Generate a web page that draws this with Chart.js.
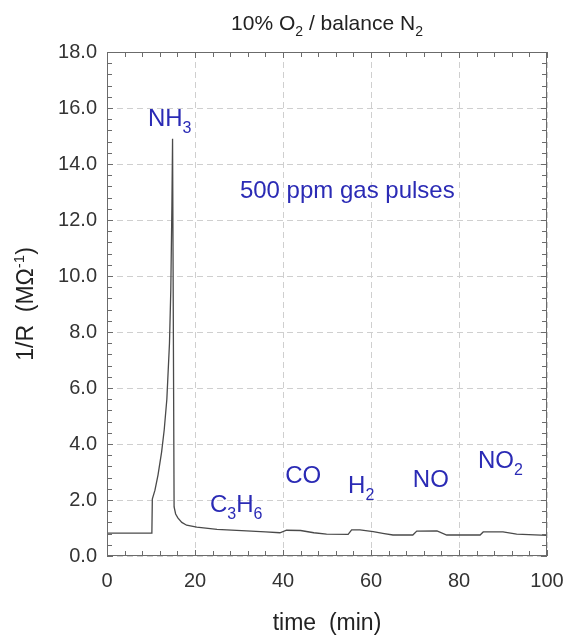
<!DOCTYPE html>
<html>
<head>
<meta charset="utf-8">
<script src="https://cdn.jsdelivr.net/npm/chart.js@4.4.1/dist/chart.umd.min.js"></script>
<style>
  html, body { margin: 0; padding: 0; background: #fff; }
  #wrap { width: 567px; height: 638px; }
</style>
</head>
<body>
<div id="wrap"><canvas id="sensorChart"></canvas></div>
<script>
// time (min) and 1/R (MOhm^-1)
const timeMin = [0, 10.2, 10.3, 10.9, 11.6, 12.4, 13.0, 13.6, 14.2, 14.5, 14.75, 14.9, 15.25, 15.6, 16.1, 17.0, 18.1, 20.4, 25, 31.7, 36, 39.3, 40.8, 44, 47, 49.9, 54.8, 55.6, 57.5, 60.5, 63, 65, 69.5, 70.4, 75, 77.2, 84.8, 85.5, 90, 93.1, 100];
const inverseR = [0.82, 0.82, 2.03, 2.35, 2.9, 3.7, 4.5, 5.6, 7.6, 9.5, 12.5, 14.9, 1.75, 1.5, 1.36, 1.2, 1.1, 1.03, 0.95, 0.9, 0.86, 0.83, 0.92, 0.91, 0.83, 0.78, 0.77, 0.93, 0.93, 0.87, 0.8, 0.75, 0.75, 0.89, 0.9, 0.75, 0.75, 0.86, 0.86, 0.78, 0.74];

// gas labels (text, x in min, y in 1/R at text baseline)
const gasLabels = ["NH_{3}", "500 ppm gas pulses", "C_{3}H_{6}", "CO", "H_{2}", "NO", "NO_{2}"];
const gasLabelX = [9.3, 30.2, 23.4, 40.5, 54.8, 69.5, 84.3];
const gasLabelY = [15.36, 12.79, 1.57, 2.61, 2.25, 2.46, 3.14];

const xTicks = [0, 20, 40, 60, 80, 100];
const yTicks = [0, 2, 4, 6, 8, 10, 12, 14, 16, 18];

const chartTitle = "10% O_{2} / balance N_{2}";
const xTitle = "time  (min)";
const yTitle = "1/R  (MΩ^{-1})";

const FONT = "'Liberation Sans', Arial, sans-serif";
const BLUE = "#2b2bb5";

// draw text with _{sub} and ^{sup} pieces
function drawRich(ctx, str, x, y, size, color, align) {
  const parts = [];
  const re = /([_^])\{([^}]*)\}|[^_^]+/g;
  let m;
  while ((m = re.exec(str)) !== null) {
    if (m[1]) parts.push({ t: m[2], k: m[1] });
    else parts.push({ t: m[0], k: "" });
  }
  const small = Math.round(size * 0.66);
  let total = 0;
  parts.forEach(p => {
    ctx.font = (p.k ? small : size) + "px " + FONT;
    p.w = ctx.measureText(p.t).width;
    total += p.w;
  });
  let cx = align === "center" ? x - total / 2 : x;
  ctx.fillStyle = color;
  ctx.textAlign = "left";
  ctx.textBaseline = "alphabetic";
  parts.forEach(p => {
    ctx.font = (p.k ? small : size) + "px " + FONT;
    let dy = 0;
    if (p.k === "_") dy = size * 0.3;
    if (p.k === "^") dy = -size * 0.38;
    ctx.fillText(p.t, cx, y + dy);
    cx += p.w;
  });
}

const framePlugin = {
  id: "framePlugin",
  afterDraw(chart) {
    const { ctx, chartArea: a, scales } = chart;
    const xs = scales.x, ys = scales.y;
    ctx.save();
    ctx.strokeStyle = "#6b6b6b";
    ctx.lineWidth = 1;
    ctx.setLineDash([]);
    ctx.strokeRect(a.left + 0.5, a.top + 0.5, a.right - a.left - 1, a.bottom - a.top - 1);

    // inward ticks on all four sides
    ctx.beginPath();
    for (let v = 0; v <= 100.001; v += 4) {
      const px = Math.round(xs.getPixelForValue(v)) + 0.5;
      const len = v % 20 === 0 ? 6 : 5;
      ctx.moveTo(px, a.bottom); ctx.lineTo(px, a.bottom - len);
      ctx.moveTo(px, a.top); ctx.lineTo(px, a.top + len);
    }
    for (let i = 0; i <= 45; i++) {
      const v = i * 0.4;
      const py = Math.round(ys.getPixelForValue(v)) + 0.5;
      const len = i % 5 === 0 ? 6 : 5;
      ctx.moveTo(a.left, py); ctx.lineTo(a.left + len, py);
      ctx.moveTo(a.right, py); ctx.lineTo(a.right - len, py);
    }
    ctx.stroke();

    // titles
    const midX = (a.left + a.right) / 2;
    drawRich(ctx, chartTitle, midX, 30, 21, "#222", "center");
    drawRich(ctx, xTitle, midX, 630, 23, "#222", "center");
    ctx.save();
    ctx.translate(33, (a.top + a.bottom) / 2);
    ctx.rotate(-Math.PI / 2);
    drawRich(ctx, yTitle, 0, 0, 23, "#222", "center");
    ctx.restore();

    // gas annotations
    gasLabels.forEach((txt, i) => {
      const px = xs.getPixelForValue(gasLabelX[i]);
      const py = ys.getPixelForValue(gasLabelY[i]);
      drawRich(ctx, txt, px, py, 24, BLUE, "left");
    });
    ctx.restore();
  }
};

new Chart(document.getElementById("sensorChart"), {
  type: "scatter",
  data: {
    datasets: [{
      data: timeMin.map((t, i) => ({ x: t, y: inverseR[i] })),
      showLine: true,
      borderColor: "#4a4a4a",
      borderWidth: 1.3,
      pointRadius: 0,
      tension: 0
    }]
  },
  options: {
    responsive: true,
    maintainAspectRatio: false,
    animation: false,
    layout: { padding: { top: 52, right: 20, left: 0, bottom: 0 } },
    plugins: { legend: { display: false }, tooltip: { enabled: false } },
    scales: {
      x: {
        type: "linear",
        min: 0, max: 100,
        afterBuildTicks: s => { s.ticks = xTicks.map(v => ({ value: v })); },
        afterFit: s => { s.height = 82; s.paddingLeft = 0; s.paddingRight = 0; },
        grid: { color: "#cfcfcf", drawTicks: false },
        border: { display: false, dash: [6, 4] },
        ticks: { color: "#333", padding: 13, font: { family: FONT, size: 20 } }
      },
      y: {
        min: 0, max: 18,
        afterBuildTicks: s => { s.ticks = yTicks.map(v => ({ value: v })); },
        afterFit: s => { s.width = 107; s.paddingTop = 0; s.paddingBottom = 0; },
        grid: { color: "#cfcfcf", drawTicks: false },
        border: { display: false, dash: [6, 4] },
        ticks: {
          color: "#333", padding: 10, font: { family: FONT, size: 20 },
          callback: v => v.toFixed(1)
        }
      }
    }
  },
  plugins: [framePlugin]
});
</script>
</body>
</html>
